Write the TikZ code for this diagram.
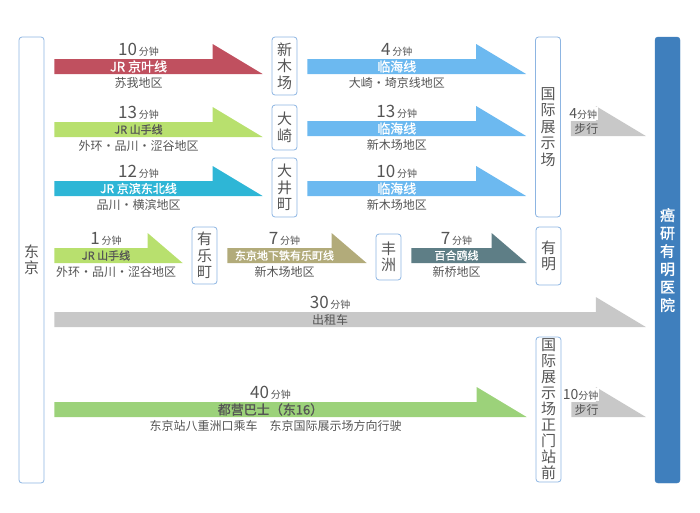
\documentclass[tikz,border=0pt]{standalone}
\usepackage{fontspec}
\setmainfont{Noto Sans CJK SC}
\newfontfamily\linefont[FakeBold=1.2]{Noto Sans CJK SC}
\usetikzlibrary{calc,positioning}

\definecolor{txtgray}{HTML}{555555}
\definecolor{boxblue}{HTML}{8DB5E2}
\definecolor{hospblue}{HTML}{3F7FBD}
\definecolor{keiyo}{HTML}{C0505F}
\definecolor{yamanote}{HTML}{B8E06E}
\definecolor{keihin}{HTML}{2EB6D6}
\definecolor{rinkai}{HTML}{6CB9F0}
\definecolor{yurakuline}{HTML}{B2AB7A}
\definecolor{yurikamome}{HTML}{5E7E86}
\definecolor{walkgray}{HTML}{C8C8C8}
\definecolor{busgreen}{HTML}{9CD27A}

\newcommand\mins[1]{{\fontsize{17}{17}\selectfont #1}\,{\fontsize{10}{10}\selectfont 分钟}}
\newcommand\walkmins[1]{{\fontsize{14}{14}\selectfont #1}{\fontsize{10}{10}\selectfont 分钟}}

% id, colour, from, to, shaft top, head length
\newcommand\routearrow[6]{%
  \coordinate (#1s) at ($(#3.east |- 0,#5)+(10,0)$);
  \coordinate (#1t) at ($(#4.west |- 0,#5)+(-9,15)$);
  \coordinate (#1h) at ($(#1s -| #1t)+(-#6,0)$);
  \coordinate (#1m) at ($(#1s)!.5!(#1h)+(5,7.5)$);
  \fill[#2] (#1s) -- (#1h) -- ++(0,-15) -- (#1t) -- (#1s |- #1t) -- cycle;
}

\begin{document}
\begin{tikzpicture}[x=1pt, y=-1pt,
    stationbox/.style={draw=boxblue, line width=0.8pt, rounded corners=3pt, fill=white,
      text=txtgray, minimum width=25pt, inner sep=0pt, align=center,
      font=\fontsize{15}{16.5}\selectfont},
    hospitalbox/.style={draw=hospblue, fill=hospblue, rounded corners=3pt, text=white,
      minimum width=25pt, inner sep=0pt, align=center,
      font=\linefont\fontsize{15}{18}\selectfont},
    timelbl/.style={anchor=base, inner sep=0pt, text=txtgray},
    linelbl/.style={inner sep=0pt},
    arealbl/.style={inner sep=0pt, text=txtgray, font=\fontsize{12}{12}\selectfont}]
    \useasboundingbox (0,0) rectangle (700,512);

    % stations
    \node[stationbox, minimum height=446pt] (tokyo) at (31.5,260) {东\\京};
    \node[stationbox, minimum height=58pt] (shinkiba) at (284.5,66) {新\\木\\场};
    \node[stationbox, minimum height=45pt] (osaki) at (284.5,127.5) {大\\崎};
    \node[stationbox, minimum height=59pt] (oimachi) at (284.5,187.5) {大\\井\\町};
    \node[stationbox, minimum height=180pt] (kokusai) at (548,127) {国\\际\\展\\示\\场};
    \node[stationbox, minimum height=57pt] (yurakucho) at (204.5,255.5) {有\\乐\\町};
    \node[stationbox, minimum height=46pt] (toyosu) at (388.5,257) {丰\\洲};
    \node[stationbox, minimum height=58pt] (ariake) at (548.5,256) {有\\明};
    \node[stationbox, minimum height=145pt, font=\fontsize{15}{16}\selectfont] (seimon) at (548.5,409.5)
      {国\\际\\展\\示\\场\\正\\门\\站\\前};
    \node[hospitalbox, minimum height=446pt] (hospital) at (667.5,260)
      {癌\\研\\有\\明\\医\\院};

    % routes
    \routearrow{ra}{keiyo}{tokyo}{shinkiba}{59}{50}
    \routearrow{rb}{yamanote}{tokyo}{osaki}{122}{50}
    \routearrow{rc}{keihin}{tokyo}{oimachi}{181}{50}
    \routearrow{ka}{rinkai}{shinkiba}{kokusai}{59}{50}
    \routearrow{kb}{rinkai}{osaki}{kokusai}{121}{50}
    \routearrow{kc}{rinkai}{oimachi}{kokusai}{181}{50}
    \routearrow{wa}{walkgray}{kokusai}{hospital}{121}{50}
    \routearrow{rd}{yamanote}{tokyo}{yurakucho}{248}{35}
    \routearrow{ya}{yurakuline}{yurakucho}{toyosu}{248}{35}
    \routearrow{yb}{yurikamome}{toyosu}{ariake}{248}{35}
    \routearrow{tx}{walkgray}{tokyo}{hospital}{312}{50}
    \routearrow{bs}{busgreen}{tokyo}{seimon}{402}{50}
    \routearrow{wb}{walkgray}{seimon}{hospital}{402}{50}

    \foreach \id/\m/\ln/\lc/\fs/\ar/\ax in {
        ra/10/JR 京叶线/white/13/苏我地区/0,
        rb/13/JR 山手线/txtgray/11/外环・品川・涩谷地区/0,
        rc/12/JR 京滨东北线/white/12/品川・横滨地区/0,
        ka/4/临海线/white/13/大崎·埼京线地区/0,
        kb/13/临海线/white/13/新木场地区/0,
        kc/10/临海线/white/13/新木场地区/0,
        rd/1/JR 山手线/txtgray/11/外环・品川・涩谷地区/10,
        ya/7/东京地下铁有乐町线/white/11/新木场地区/0,
        yb/7/百合鸥线/white/11/新桥地区/0,
        bs/40/都营巴士（东16）/txtgray/13/东京站八重洲口乘车　东京国际展示场方向行驶/5} {
      \node[timelbl] (\id time) at ($(\id s)!.5!(\id h)+(5,-4)$) {\mins{\m}};
      \node[linelbl, text=\lc, font=\linefont\fontsize{\fs}{\fs}\selectfont] (\id line) at (\id m) {\ln};
      \node[arealbl] (\id area) at ($(\id m)+(\ax,16.5)$) {\ar};
    }

    \node[timelbl] (txtime) at ($(txs)!.5!(txh)+(5,-4)$) {\mins{30}};
    \node[linelbl, text=txtgray, font=\fontsize{12}{12}\selectfont] (txline) at (txm) {出租车};

    \node[timelbl, fill=white, inner sep=1pt] (watime) at ($(was)!.5!(wah)+(0,-3)$) {\walkmins{4}};
    \node[linelbl, text=txtgray, font=\fontsize{12}{12}\selectfont] (waline) at ($(wam)+(-2,0)$) {步行};
    \node[timelbl, fill=white, inner sep=1pt] (wbtime) at ($(wbs)!.5!(wbh)+(-3,-3)$) {\walkmins{10}};
    \node[linelbl, text=txtgray, font=\fontsize{12}{12}\selectfont] (wbline) at ($(wbm)+(-2,0)$) {步行};
\end{tikzpicture}
\end{document}
